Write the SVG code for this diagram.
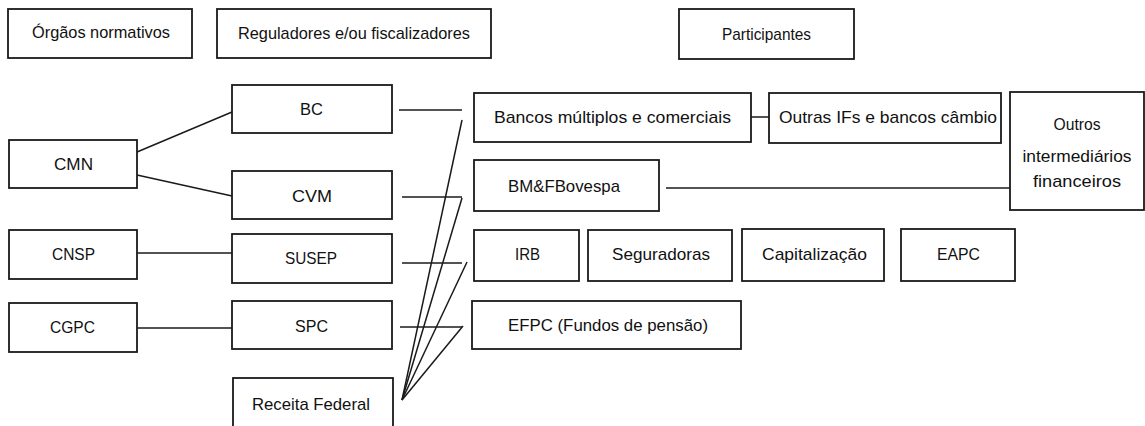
<svg xmlns="http://www.w3.org/2000/svg" width="1145" height="426" viewBox="0 0 1145 426">
<style>
.box{fill:#fff;stroke:#1a1a1a;stroke-width:1.8}
.t{font-family:"Liberation Sans",Arial,sans-serif;font-size:17px;fill:#111}
.c{text-anchor:middle}
.ln{stroke:#1a1a1a;stroke-width:1.5;fill:none}
</style>
<rect width="1145" height="426" fill="#fff"/>
<g id="connectors">
<line class="ln" x1="137" y1="152" x2="232" y2="112"/>
<line class="ln" x1="137" y1="175" x2="232" y2="196"/>
<line class="ln" x1="137" y1="253" x2="232" y2="253"/>
<line class="ln" x1="137" y1="328" x2="232" y2="328"/>
<line class="ln" x1="399" y1="110" x2="462" y2="110"/>
<line class="ln" x1="402" y1="197" x2="462" y2="197"/>
<line class="ln" x1="402" y1="263" x2="462" y2="263"/>
<line class="ln" x1="400" y1="327" x2="462" y2="327"/>
<line class="ln" x1="751" y1="117" x2="769" y2="117"/>
<line class="ln" x1="666" y1="188" x2="1010" y2="188"/>
<line class="ln" x1="402" y1="400" x2="462" y2="120"/>
<line class="ln" x1="402" y1="400" x2="462" y2="198"/>
<line class="ln" x1="402" y1="400" x2="467" y2="262"/>
<line class="ln" x1="402" y1="400" x2="463" y2="326"/>
</g>
<g id="orgaos"><rect class="box" x="8" y="9" width="184" height="49"/><text class="t" x="32" y="38" textLength="138" lengthAdjust="spacingAndGlyphs">Órgãos normativos</text></g>
<g id="reguladores"><rect class="box" x="217" y="9" width="274" height="49"/><text class="t" x="238" y="39" textLength="232" lengthAdjust="spacingAndGlyphs">Reguladores e/ou fiscalizadores</text></g>
<g id="participantes"><rect class="box" x="679" y="9" width="175" height="50"/><text class="t" x="722" y="40" textLength="89" lengthAdjust="spacingAndGlyphs">Participantes</text></g>
<g id="cmn"><rect class="box" x="9" y="140" width="128" height="48"/><text class="t" x="54" y="170" textLength="39" lengthAdjust="spacingAndGlyphs">CMN</text></g>
<g id="bc"><rect class="box" x="232" y="85" width="160" height="48"/><text class="t" x="300" y="115" textLength="23" lengthAdjust="spacingAndGlyphs">BC</text></g>
<g id="cvm"><rect class="box" x="232" y="171" width="160" height="48"/><text class="t" x="292" y="202" textLength="40" lengthAdjust="spacingAndGlyphs">CVM</text></g>
<g id="cnsp"><rect class="box" x="9" y="230" width="128" height="49"/><text class="t" x="52" y="260" textLength="43" lengthAdjust="spacingAndGlyphs">CNSP</text></g>
<g id="susep"><rect class="box" x="232" y="234" width="160" height="49"/><text class="t" x="285" y="264" textLength="52" lengthAdjust="spacingAndGlyphs">SUSEP</text></g>
<g id="cgpc"><rect class="box" x="9" y="303" width="128" height="49"/><text class="t" x="50" y="333" textLength="45" lengthAdjust="spacingAndGlyphs">CGPC</text></g>
<g id="spc"><rect class="box" x="232" y="301" width="160" height="48"/><text class="t" x="295" y="332" textLength="33" lengthAdjust="spacingAndGlyphs">SPC</text></g>
<g id="receita"><rect class="box" x="233" y="378" width="160" height="60"/><text class="t" x="252" y="410" textLength="118" lengthAdjust="spacingAndGlyphs">Receita Federal</text></g>
<g id="bancos"><rect class="box" x="474" y="93" width="277" height="49"/><text class="t" x="494" y="123" textLength="237" lengthAdjust="spacingAndGlyphs">Bancos múltiplos e comerciais</text></g>
<g id="outras"><rect class="box" x="769" y="93" width="232" height="50"/><text class="t" x="779" y="123" textLength="218" lengthAdjust="spacingAndGlyphs">Outras IFs e bancos câmbio</text></g>
<g id="outros"><rect class="box" x="1010" y="92" width="134" height="118"/><text class="t c" x="1077" y="130" textLength="47" lengthAdjust="spacingAndGlyphs">Outros</text><text class="t c" x="1077" y="162" textLength="109" lengthAdjust="spacingAndGlyphs">intermediários</text><text class="t c" x="1077" y="187" textLength="88" lengthAdjust="spacingAndGlyphs">financeiros</text></g>
<g id="bmf"><rect class="box" x="474" y="160" width="185" height="51"/><text class="t" x="508" y="192" textLength="112" lengthAdjust="spacingAndGlyphs">BM&amp;FBovespa</text></g>
<g id="irb"><rect class="box" x="474" y="230" width="105" height="51"/><text class="t" x="515" y="260" textLength="25" lengthAdjust="spacingAndGlyphs">IRB</text></g>
<g id="seguradoras"><rect class="box" x="588" y="230" width="144" height="51"/><text class="t" x="612" y="260" textLength="98" lengthAdjust="spacingAndGlyphs">Seguradoras</text></g>
<g id="capitalizacao"><rect class="box" x="742" y="229" width="142" height="52"/><text class="t" x="762" y="260" textLength="105" lengthAdjust="spacingAndGlyphs">Capitalização</text></g>
<g id="eapc"><rect class="box" x="901" y="229" width="114" height="52"/><text class="t" x="937" y="260" textLength="43" lengthAdjust="spacingAndGlyphs">EAPC</text></g>
<g id="efpc"><rect class="box" x="472" y="301" width="269" height="48"/><text class="t" x="508" y="331" textLength="200" lengthAdjust="spacingAndGlyphs">EFPC (Fundos de pensão)</text></g>
</svg>
